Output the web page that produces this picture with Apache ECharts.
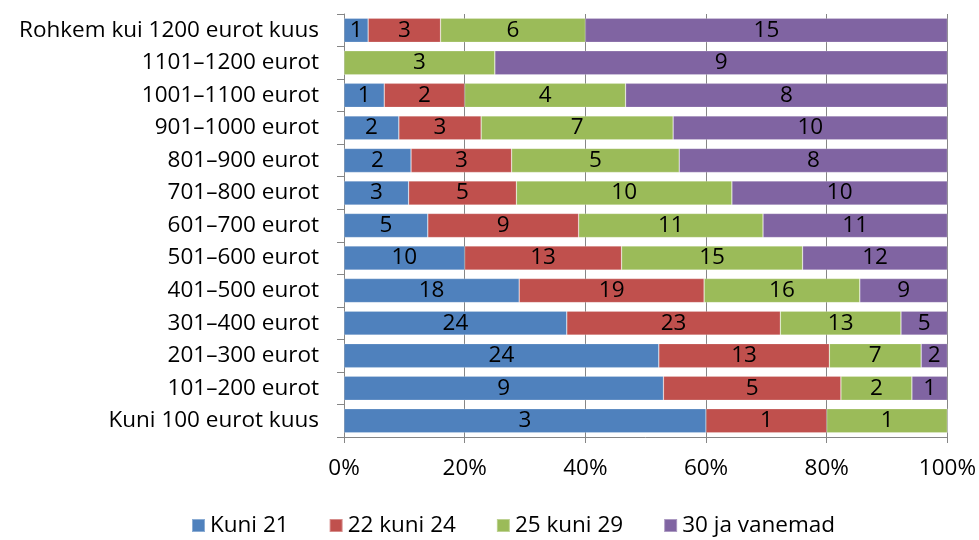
<!DOCTYPE html>
<html>
<head>
<meta charset="utf-8">
<script src="https://cdn.jsdelivr.net/npm/echarts@6/dist/echarts.min.js"></script>
<style>
  html, body { margin: 0; padding: 0; background: #fff; }
  #chart { width: 979px; height: 540px; }
</style>
</head>
<body>
<div id="chart"></div>
<script>
// Income bands, bottom to top as drawn on the category axis
const categories = [
  'Kuni 100 eurot kuus',
  '101–200 eurot',
  '201–300 eurot',
  '301–400 eurot',
  '401–500 eurot',
  '501–600 eurot',
  '601–700 eurot',
  '701–800 eurot',
  '801–900 eurot',
  '901–1000 eurot',
  '1001–1100 eurot',
  '1101–1200 eurot',
  'Rohkem kui 1200 eurot kuus'
];

// Respondent counts per age group
const kuni21      = [3, 9, 24, 24, 18, 10, 5, 3, 2, 2, 1, 0, 1];
const kuni22_24   = [1, 5, 13, 23, 19, 13, 9, 5, 3, 3, 2, 0, 3];
const kuni25_29   = [1, 2, 7, 13, 16, 15, 11, 10, 5, 7, 4, 3, 6];
const vanem30     = [0, 1, 2, 5, 9, 12, 11, 10, 8, 10, 8, 9, 15];

const seriesNames  = ['Kuni 21', '22 kuni 24', '25 kuni 29', '30 ja vanemad'];
const seriesCounts = [kuni21, kuni22_24, kuni25_29, vanem30];
const colors = ['#4F81BD', '#C0504D', '#9BBB59', '#8064A2'];

const xTicks = ['0%', '20%', '40%', '60%', '80%', '100%'];

const FONT = 'Open Sans';
const FS = 22.5;

// Row totals used to turn counts into shares of 100%
const totals = categories.map((_, i) =>
  seriesCounts.reduce((s, arr) => s + arr[i], 0));

const series = seriesNames.map((name, k) => ({
  name: name,
  type: 'bar',
  stack: 'total',
  barCategoryGap: '26%',
  itemStyle: { color: colors[k], borderColor: 'rgba(255,255,255,0.35)', borderWidth: 0.6 },
  label: {
    show: true,
    position: 'inside',
    color: '#000',
    fontFamily: FONT,
    fontSize: FS,
    formatter: p => seriesCounts[k][p.dataIndex] > 0 ? String(seriesCounts[k][p.dataIndex]) : ''
  },
  data: seriesCounts[k].map((v, i) => v / totals[i] * 100)
}));

const chart = echarts.init(document.getElementById('chart'), null, { renderer: 'canvas' });
chart.setOption({
  animation: false,
  color: colors,
  grid: { left: 344, right: 31, top: 14, bottom: 103, containLabel: false },
  legend: {
    bottom: -2,
    left: 186,
    itemWidth: 13,
    itemHeight: 13,
    itemGap: 40,
    icon: 'rect',
    textStyle: { fontFamily: FONT, fontSize: FS, color: '#000' },
    data: seriesNames
  },
  xAxis: {
    type: 'value',
    min: 0,
    max: 100,
    interval: 20,
    axisLine: { show: true, lineStyle: { color: '#868686' } },
    axisTick: { show: true, length: 6, lineStyle: { color: '#868686' } },
    splitLine: { show: true, lineStyle: { color: '#868686', width: 1 } },
    axisLabel: {
      margin: 20,
      fontFamily: FONT,
      fontSize: FS,
      color: '#000',
      formatter: v => xTicks[Math.round(v / 20)]
    }
  },
  yAxis: {
    type: 'category',
    data: categories,
    axisLine: { show: true, lineStyle: { color: '#868686' } },
    axisTick: { show: true, length: 7, lineStyle: { color: '#868686' } },
    axisLabel: { margin: 25, fontFamily: FONT, fontSize: FS, color: '#000' }
  },
  series: series
});
</script>
</body>
</html>
